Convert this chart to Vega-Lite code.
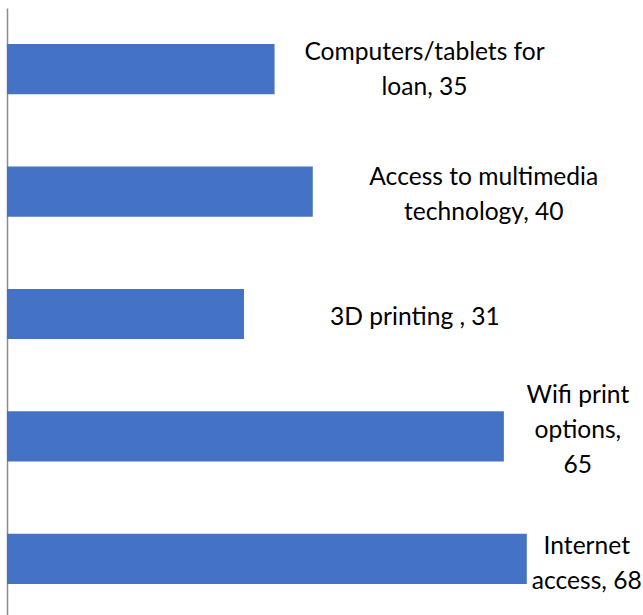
{
  "$schema": "https://vega.github.io/schema/vega-lite/v6.json",
  "width": 636,
  "height": 615,
  "autosize": "none",
  "padding": {"left": 7, "top": 0, "right": 0, "bottom": 0},
  "data": {
    "values": [
      {"item": "Computers/tablets for loan", "label": "Computers/tablets for\nloan, 35", "value": 35},
      {"item": "Access to multimedia technology", "label": "Access to multimedia\ntechnology, 40", "value": 40},
      {"item": "3D printing", "label": "3D printing , 31", "value": 31},
      {"item": "Wifi print options", "label": "Wifi print\noptions,\n65", "value": 65},
      {"item": "Internet access", "label": "Internet\naccess, 68", "value": 68}
    ]
  },
  "encoding": {
    "y": {
      "field": "item",
      "type": "nominal",
      "sort": null,
      "scale": {"range": [8, 620], "paddingInner": 0.59, "paddingOuter": 0.295},
      "axis": {"labels": false, "ticks": false, "title": null, "domainColor": "#8c8c8c", "domainWidth": 1.5}
    },
    "x": {
      "field": "value",
      "type": "quantitative",
      "scale": {"domain": [0, 83.2], "nice": false},
      "axis": null
    }
  },
  "layer": [
    {"mark": {"type": "bar", "color": "#4472C4"}},
    {
      "transform": [{"filter": "datum.value == 35"}],
      "mark": {"type": "text", "align": "center", "baseline": "middle", "lineBreak": "\n", "font": "Lato", "fontSize": 24.6, "lineHeight": 35, "color": "#000", "dx": 150, "dy": -16},
      "encoding": {"text": {"field": "label"}}
    },
    {
      "transform": [{"filter": "datum.value == 40"}],
      "mark": {"type": "text", "align": "center", "baseline": "middle", "lineBreak": "\n", "font": "Lato", "fontSize": 24.6, "lineHeight": 35, "color": "#000", "dx": 171, "dy": -14},
      "encoding": {"text": {"field": "label"}}
    },
    {
      "transform": [{"filter": "datum.value == 31"}],
      "mark": {"type": "text", "align": "center", "baseline": "middle", "lineBreak": "\n", "font": "Lato", "fontSize": 24.6, "lineHeight": 35, "color": "#000", "dx": 171, "dy": 4},
      "encoding": {"text": {"field": "label"}}
    },
    {
      "transform": [{"filter": "datum.value == 65"}],
      "mark": {"type": "text", "align": "center", "baseline": "middle", "lineBreak": "\n", "font": "Lato", "fontSize": 24.6, "lineHeight": 35, "color": "#000", "dx": 74, "dy": -40},
      "encoding": {"text": {"field": "label"}}
    },
    {
      "transform": [{"filter": "datum.value == 68"}],
      "mark": {"type": "text", "align": "center", "baseline": "middle", "lineBreak": "\n", "font": "Lato", "fontSize": 24.6, "lineHeight": 35, "color": "#000", "dx": 60, "dy": -12},
      "encoding": {"text": {"field": "label"}}
    }
  ],
  "config": {"view": {"stroke": null}}
}
